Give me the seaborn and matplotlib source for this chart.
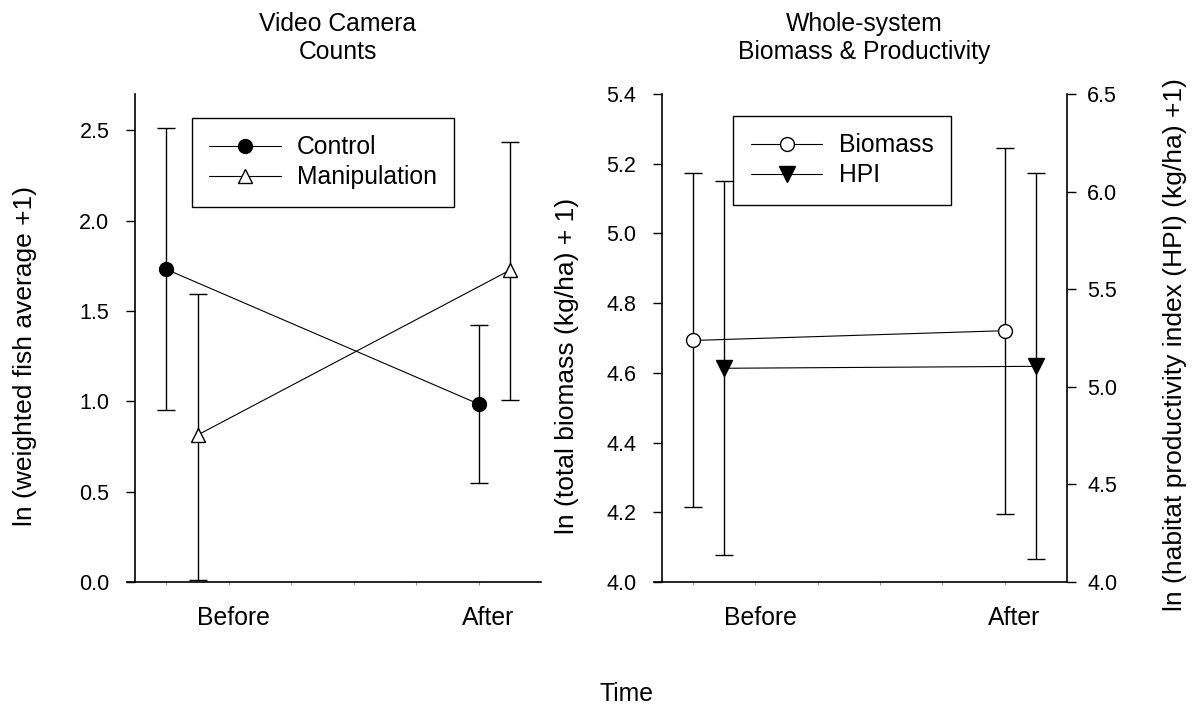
import numpy as np
import pandas as pd
import matplotlib
matplotlib.use("Agg")
import matplotlib.pyplot as plt
import seaborn as sns

sns.set_theme(style="ticks")
plt.rcParams['font.family'] = ['Liberation Sans', 'DejaVu Sans']
plt.rcParams['text.color'] = 'black'
plt.rcParams['axes.titlecolor'] = 'black'
plt.rcParams['xtick.color'] = 'black'
plt.rcParams['ytick.color'] = 'black'

# Data (x: Before = 0, After = 1)
time_x = [0.0, 1.0]
shift = 0.1  # second series drawn a little to the right

control = [1.73, 0.985]
control_lo = [0.95, 0.547]
control_hi = [2.51, 1.424]

manip = [0.813, 1.725]
manip_lo = [0.011, 1.008]
manip_hi = [1.596, 2.436]

biomass = [4.693, 4.721]
biomass_lo = [4.215, 4.194]
biomass_hi = [5.172, 5.245]

hpi = [5.095, 5.105]
hpi_lo = [4.137, 4.117]
hpi_hi = [6.055, 6.096]

time_labels = ['Before', 'After']
time_label_pos = [0.215, 1.03]

left_yticks = [0.0, 0.5, 1.0, 1.5, 2.0, 2.5]
bio_yticks = [4.0, 4.2, 4.4, 4.6, 4.8, 5.0, 5.2, 5.4]
hpi_yticks = [4.0, 4.5, 5.0, 5.5, 6.0, 6.5]

FS = 17.8
TICK_FS = 15.5
YLAB_FS = 19
CAP = 6.8


def errbars(ax, x, y, lo, hi):
    y = np.asarray(y)
    err = [y - np.asarray(lo), np.asarray(hi) - y]
    ax.errorbar(x, y, yerr=err, fmt='none', ecolor='black', elinewidth=1.0,
                capsize=CAP, capthick=1.0, zorder=2)


def series(ax, x, y, marker, face, label, ms=10):
    df = pd.DataFrame({'x': x, 'y': y})
    sns.lineplot(data=df, x='x', y='y', ax=ax, color='black', lw=0.8,
                 marker=marker, markersize=ms, mfc=face, mec='black',
                 mew=1.0, label=label, zorder=3)


def style_x(ax):
    ax.set_xlim(-0.1, 1.2)
    ax.set_xticks(time_label_pos)
    ax.set_xticklabels(time_labels, fontsize=FS)
    ax.tick_params(axis='x', which='major', length=0, pad=17)
    ax.set_xticks(np.arange(0, 1.01, 0.2), minor=True)
    ax.tick_params(axis='x', which='minor', length=2, width=0.8,
                   color='#999999', direction='out')
    ax.set_xlabel('')
    ax.spines['bottom'].set_bounds(-0.127, 1.2)


def boxed_legend(leg):
    leg.get_frame().set_edgecolor('black')
    leg.get_frame().set_linewidth(1.0)


fig = plt.figure(figsize=(11.93, 7.09), dpi=100)
ax1 = fig.add_axes([0.1132, 0.1791, 0.3403, 0.6883])
ax2 = fig.add_axes([0.5549, 0.1791, 0.3395, 0.6883])
ax3 = ax2.twinx()

# --- Left panel: video camera counts ---
errbars(ax1, time_x, control, control_lo, control_hi)
errbars(ax1, [t + shift for t in time_x], manip, manip_lo, manip_hi)
series(ax1, time_x, control, 'o', 'black', 'Control')
series(ax1, [t + shift for t in time_x], manip, '^', 'white', 'Manipulation', ms=10)

ax1.set_ylim(0, 2.7)
ax1.set_yticks(left_yticks)
ax1.set_yticklabels([f'{v:.1f}' for v in left_yticks])
ax1.tick_params(axis='y', length=6.5, width=1.0, direction='out',
                labelsize=TICK_FS, pad=12)
style_x(ax1)
ax1.set_ylabel('')
for s in ['top', 'right']:
    ax1.spines[s].set_visible(False)
ax1.set_title('Video Camera\nCounts', fontsize=FS, pad=25)

leg1 = ax1.legend(loc='upper left', bbox_to_anchor=(0.14, 0.951),
                  borderaxespad=0, fontsize=FS, handlelength=2.9,
                  handletextpad=0.65, borderpad=0.7, labelspacing=0.25,
                  fancybox=False, framealpha=1)
boxed_legend(leg1)

# --- Right panel: biomass (left axis) and HPI (right axis) ---
errbars(ax2, time_x, biomass, biomass_lo, biomass_hi)
errbars(ax3, [t + shift for t in time_x], hpi, hpi_lo, hpi_hi)
series(ax2, time_x, biomass, 'o', 'white', 'Biomass')
series(ax3, [t + shift for t in time_x], hpi, 'v', 'black', 'HPI', ms=11)

ax2.set_ylim(4.0, 5.4)
ax2.set_yticks(bio_yticks)
ax2.set_yticklabels([f'{v:.1f}' for v in bio_yticks])
ax2.tick_params(axis='y', length=6.5, width=1.0, direction='out',
                labelsize=TICK_FS, pad=12)
ax3.set_ylim(4.0, 6.5)
ax3.set_yticks(hpi_yticks)
ax3.set_yticklabels([f'{v:.1f}' for v in hpi_yticks])
ax3.tick_params(axis='y', length=6.5, width=1.0, direction='out',
                labelsize=TICK_FS, pad=8)
style_x(ax2)
ax2.set_ylabel('')
ax3.set_ylabel('')
ax2.spines['top'].set_visible(False)
ax2.spines['right'].set_visible(False)
for s in ['top', 'left', 'bottom']:
    ax3.spines[s].set_visible(False)
ax2.set_title('Whole-system\nBiomass & Productivity', fontsize=FS, pad=25)

if ax3.get_legend() is not None:
    ax3.get_legend().remove()
h2, l2 = ax2.get_legend_handles_labels()
h3, l3 = ax3.get_legend_handles_labels()
leg2 = ax2.legend(h2 + h3, l2 + l3, loc='upper left',
                  bbox_to_anchor=(0.1765, 0.955), borderaxespad=0,
                  fontsize=FS, handlelength=2.9, handletextpad=0.65,
                  borderpad=0.7, labelspacing=0.25, fancybox=False,
                  framealpha=1)
boxed_legend(leg2)

for ax in (ax1, ax2, ax3):
    for sp in ax.spines.values():
        sp.set_linewidth(1.2)
        sp.set_color('black')
    ax.set_facecolor('none')

# axis titles
fig.text(25 / 1193, 1 - 356 / 709, 'ln (weighted fish average +1)',
         rotation=90, ha='center', va='center', fontsize=YLAB_FS)
fig.text(567 / 1193, 1 - 366 / 709, 'ln (total biomass (kg/ha) + 1)',
         rotation=90, ha='center', va='center', fontsize=YLAB_FS)
fig.text(1175 / 1193, 1 - 345 / 709,
         'ln (habitat productivity index (HPI) (kg/ha) +1)',
         rotation=90, ha='center', va='center', fontsize=YLAB_FS)
fig.text(626 / 1193, 1 - 694 / 709, 'Time', ha='center', va='center',
         fontsize=FS)

fig.savefig('out.png', dpi=100, facecolor='white')
